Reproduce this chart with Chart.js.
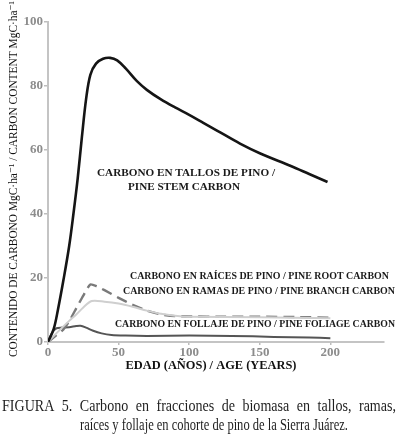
<!DOCTYPE html>
<html>
<head>
<meta charset="utf-8">
<script src="https://cdn.jsdelivr.net/npm/chart.js@4.4.1/dist/chart.umd.min.js"></script>
<style>
html,body{margin:0;padding:0;background:#fff;}
#wrap{position:relative;width:398px;height:435px;}
canvas{display:block;}
</style>
</head>
<body>
<div id="wrap"><canvas id="c" width="398" height="435"></canvas></div>
<script>
// ---- data ----
const stemAge  = [0,4,7,11,15,18,21,24,27,30,34,39,44,49,55,63,70,80,90,100,110,120,136,150,172,185,198];
const stemC    = [0,4,10,19.5,30,40,51,64,76,83.5,87,88.5,88.8,88,85.5,81.5,78.8,75.8,73.3,71,68.5,66,62,59,55,52.5,50];
const rootAge  = [0,5,10,15,20,25,30,35,40,50,60,70,80,90,100,125,150,175,200];
const rootC    = [0,1.8,3.5,6.5,10.5,14.5,18,17.3,16.2,13.8,11.6,9.8,8.6,8.1,8.0,7.9,7.9,7.8,7.6];
const branchAge= [0,5,10,15,20,25,31,40,50,60,70,80,90,100,150,200];
const branchC  = [0,2.3,4.5,6.6,8.6,10.8,12.8,12.6,12,11,9.8,8.8,8.2,7.9,7.7,7.4];
const foliageAge=[0,3,6,10,15,20,23,27,32,38,45,55,70,100,130,160,185,200];
const foliageC = [0,3,4.3,4.5,4.6,5.0,5.1,4.5,3.5,2.7,2.2,2.0,1.9,2.0,1.9,1.6,1.4,1.2];
const xTicks = [0,50,100,150,200];
const yTicks = [0,20,40,60,80,100];

const yTitle = 'CONTENIDO DE CARBONO MgC·ha⁻¹ / CARBON CONTENT MgC·ha⁻¹';
const xTitle = 'EDAD (AÑOS) / AGE (YEARS)';
const labelStem1 = 'CARBONO EN TALLOS DE PINO /';
const labelStem2 = 'PINE STEM CARBON';
const labelRoot = 'CARBONO EN RAÍCES DE PINO / PINE ROOT CARBON';
const labelBranch = 'CARBONO EN RAMAS DE PINO / PINE BRANCH CARBON';
const labelFoliage = 'CARBONO EN FOLLAJE DE PINO / PINE FOLIAGE CARBON';
const caption1 = 'FIGURA 5. Carbono en fracciones de biomasa en tallos, ramas,';
const caption2 = 'raíces y follaje en cohorte de pino de la Sierra Juárez.';

function pts(xs, ys){ return xs.map((x,i)=>({x:x, y:ys[i]})); }

const SERIF = '"Liberation Serif", "DejaVu Serif", serif';

function fitText(ctx, text, cx, cy, font, width, color, rot){
  ctx.save();
  ctx.font = font;
  ctx.fillStyle = color;
  ctx.textAlign = 'center';
  ctx.textBaseline = 'middle';
  const w = ctx.measureText(text).width;
  ctx.translate(cx, cy);
  if (rot) ctx.rotate(rot);
  ctx.scale(width / w, 1);
  ctx.fillText(text, 0, 0);
  ctx.restore();
}
function justifyText(ctx, text, x0, x1, cy, font, color, gapTarget){
  ctx.save();
  ctx.font = font; ctx.fillStyle = color; ctx.textBaseline='middle'; ctx.textAlign='left';
  const words = text.split(' ');
  const nat = words.reduce((s,w)=>s+ctx.measureText(w).width,0);
  const sx = (x1-x0-gapTarget*(words.length-1))/nat;
  const gap = gapTarget;
  let x = x0;
  words.forEach(w=>{
    ctx.save(); ctx.translate(x, cy); ctx.scale(sx,1); ctx.fillText(w,0,0); ctx.restore();
    x += ctx.measureText(w).width*sx + gap;
  });
  ctx.restore();
}

const textPlugin = {
  id:'texts',
  afterDraw(chart){
    const ctx = chart.ctx;
    const B = 'bold 11px ' + SERIF;
    fitText(ctx, yTitle, 14, 179, '12px ' + SERIF, 356, '#111', -Math.PI/2);
    fitText(ctx, xTitle, 211, 366, 'bold 12px ' + SERIF, 171, '#111');
    fitText(ctx, labelStem1, 186, 173, B, 178, '#1a1a1a');
    fitText(ctx, labelStem2, 184, 187, B, 112, '#1a1a1a');
    fitText(ctx, labelRoot, 259.5, 276, B, 259, '#1a1a1a');
    fitText(ctx, labelBranch, 259, 291, B, 272, '#1a1a1a');
    fitText(ctx, labelFoliage, 255, 324, B, 280, '#1a1a1a');
    const CF = '16px ' + SERIF;
    justifyText(ctx, caption1, 2, 396, 407, CF, '#1e1e1e', 7.5);
    fitText(ctx, caption2, 214, 426, CF, 268, '#1e1e1e');
  }
};

new Chart(document.getElementById('c'), {
  type:'line',
  data:{
    datasets:[
      {label:'stem', data:pts(stemAge, stemC), borderColor:'#151515', borderWidth:2.6, pointRadius:0, tension:0.35, fill:false},
      {label:'branch', data:pts(branchAge, branchC), borderColor:'#cfcfcf', borderWidth:2, pointRadius:0, tension:0.3, fill:false},
      {label:'root', data:pts(rootAge, rootC), borderColor:'#7a7a7a', borderWidth:2.4, borderDash:[11,6], pointRadius:0, tension:0.2, fill:false},
      {label:'foliage', data:pts(foliageAge, foliageC), borderColor:'#555', borderWidth:2, pointRadius:0, tension:0.3, fill:false}
    ]
  },
  options:{
    responsive:false, animation:false, devicePixelRatio:1,
    layout:{padding:{top:22, right:14, bottom:55, left:0}},
    plugins:{legend:{display:false}, tooltip:{enabled:false}, title:{display:false}},
    scales:{
      x:{
        type:'linear', min:0, max:238,
        afterBuildTicks(s){ s.ticks = xTicks.map(v=>({value:v})); },
        afterFit(s){ s.height = 38; },
        grid:{drawOnChartArea:false, drawTicks:true, tickLength:3, color:'#bdbdbd', lineWidth:1.5},
        border:{display:true, color:'#c4c4c4', width:2},
        ticks:{color:'#8c8c8c', font:{family:SERIF, size:13, weight:'bold'}, padding:0, maxRotation:0},
        title:{display:false}
      },
      y:{
        type:'linear', min:0, max:100,
        afterBuildTicks(s){ s.ticks = yTicks.map(v=>({value:v})); },
        afterFit(s){ s.width = 48; },
        grid:{drawOnChartArea:false, drawTicks:true, tickLength:4, color:'#bdbdbd', lineWidth:1.5},
        border:{display:true, color:'#c4c4c4', width:2},
        ticks:{color:'#8c8c8c', font:{family:SERIF, size:13, weight:'bold'}, padding:1},
        title:{display:false}
      }
    }
  },
  plugins:[textPlugin]
});
</script>
</body>
</html>
